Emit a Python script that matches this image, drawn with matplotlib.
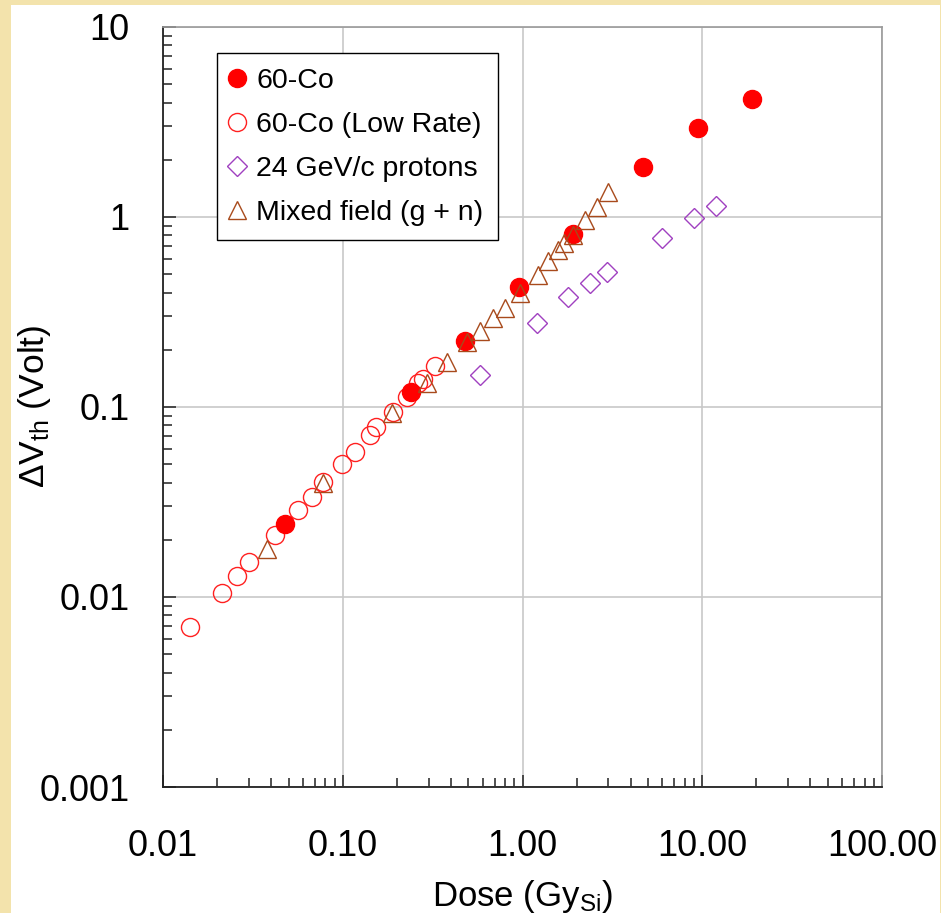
"""
Delta Vth vs dose (log-log) for the four irradiation sources.
"""

import matplotlib
matplotlib.use("Agg")
import matplotlib.pyplot as plt
from matplotlib.patches import Rectangle
from matplotlib.ticker import LogLocator, NullFormatter

plt.rcParams["font.family"] = ["Liberation Sans", "DejaVu Sans"]
plt.rcParams["mathtext.default"] = "regular"

# --- data ---
co60_dose = [0.048, 0.24, 0.48, 0.96, 1.92, 4.7, 9.5, 19.0]
co60_dvth = [0.0242, 0.120, 0.222, 0.428, 0.814, 1.83, 2.94, 4.18]

co60_low_dose = [0.0141, 0.0213, 0.0258, 0.0301, 0.042, 0.0565, 0.0675, 0.0778,
                 0.0992, 0.117, 0.142, 0.1535, 0.191, 0.228, 0.263, 0.280, 0.327]
co60_low_dvth = [0.00695, 0.0105, 0.0129, 0.0153, 0.0212, 0.0287, 0.0336, 0.0403,
                 0.0501, 0.058, 0.0712, 0.0785, 0.094, 0.113, 0.134, 0.140, 0.164]

proton_dose = [0.582, 1.21, 1.78, 2.38, 2.97, 6.0, 9.05, 12.0]
proton_dvth = [0.147, 0.277, 0.379, 0.45, 0.514, 0.775, 0.988, 1.14]

mixed_dose = [0.0379, 0.0778, 0.188, 0.295, 0.381, 0.493, 0.582, 0.688, 0.80,
              0.973, 1.22, 1.39, 1.58, 1.71, 1.92, 2.24, 2.61, 3.0]
mixed_dvth = [0.0179, 0.0398, 0.0929, 0.134, 0.173, 0.220, 0.251, 0.294, 0.332,
              0.398, 0.495, 0.586, 0.67, 0.73, 0.80, 0.964, 1.13, 1.35]

labels = ["60-Co", "60-Co (Low Rate)", "24 GeV/c protons", "Mixed field (g + n)"]

x_ticks = [0.01, 0.1, 1, 10, 100]
x_ticklabels = ["0.01", "0.10", "1.00", "10.00", "100.00"]
y_ticks = [0.001, 0.01, 0.1, 1, 10]
y_ticklabels = ["0.001", "0.01", "0.1", "1", "10"]

# --- figure ---
fig = plt.figure(figsize=(9.41, 9.13), dpi=100, facecolor="#F3E3AC")
fig.add_artist(Rectangle((11 / 941, 0), 929 / 941, 908 / 913,
                         transform=fig.transFigure, facecolor="white",
                         edgecolor="none", zorder=0))

ax = fig.add_axes([163 / 941, 1 - 787 / 913, 719 / 941, 760 / 913])
ax.set_facecolor("white")

ax.plot(co60_dose, co60_dvth, "o", color="#FF0000", ms=13, mec="#FF0000",
        label=labels[0], zorder=4)
ax.plot(co60_low_dose, co60_low_dvth, "o", mfc="none", mec="#FF2020", ms=13,
        mew=1.0, label=labels[1], zorder=3)
ax.plot(proton_dose, proton_dvth, "D", mfc="none", mec="#A040C0", ms=10.5,
        mew=1.0, label=labels[2], zorder=4)
ax.plot(mixed_dose, mixed_dvth, "^", mfc="none", mec="#A84A1C", ms=13.5,
        mew=1.0, label=labels[3], zorder=5)

ax.set_xscale("log")
ax.set_yscale("log")
ax.set_xlim(0.01, 100)
ax.set_ylim(0.001, 10)

ax.set_xticks(x_ticks, x_ticklabels)
ax.set_yticks(y_ticks, y_ticklabels)
ax.xaxis.set_minor_locator(LogLocator(base=10, subs=range(2, 10)))
ax.yaxis.set_minor_locator(LogLocator(base=10, subs=range(2, 10)))
ax.xaxis.set_minor_formatter(NullFormatter())
ax.yaxis.set_minor_formatter(NullFormatter())

ax.tick_params(which="both", direction="in", top=False, right=False,
               width=1.1, color="#222222")
ax.tick_params(which="major", length=9)
ax.tick_params(which="minor", length=6.5)
ax.tick_params(axis="x", which="major", labelsize=26, pad=30)
ax.tick_params(axis="y", which="major", labelsize=26, pad=24)

ax.grid(True, which="major", color="#C8C8C8", linewidth=1.2)
ax.set_axisbelow(True)

for side in ("left", "bottom"):
    ax.spines[side].set_color("#222222")
    ax.spines[side].set_linewidth(1.3)
for side in ("top", "right"):
    ax.spines[side].set_color("#9A9A9A")
    ax.spines[side].set_linewidth(1.2)

ax.set_xlabel("Dose (Gy$_{Si}$)", fontsize=25, labelpad=10)
ax.set_ylabel("ΔV$_{th}$ (Volt)", fontsize=25.5)
ax.yaxis.set_label_coords(-0.153, 0.501)

leg = ax.legend(loc="upper left", bbox_to_anchor=(0.0751, 0.9658),
                borderaxespad=0, fontsize=20.5, numpoints=1, handlelength=0.4,
                handletextpad=0.45, labelspacing=0.63, borderpad=0.52,
                fancybox=False, framealpha=1, edgecolor="black")
leg.get_frame().set_linewidth(1.0)

plt.savefig("out.png", dpi=100, facecolor=fig.get_facecolor())
